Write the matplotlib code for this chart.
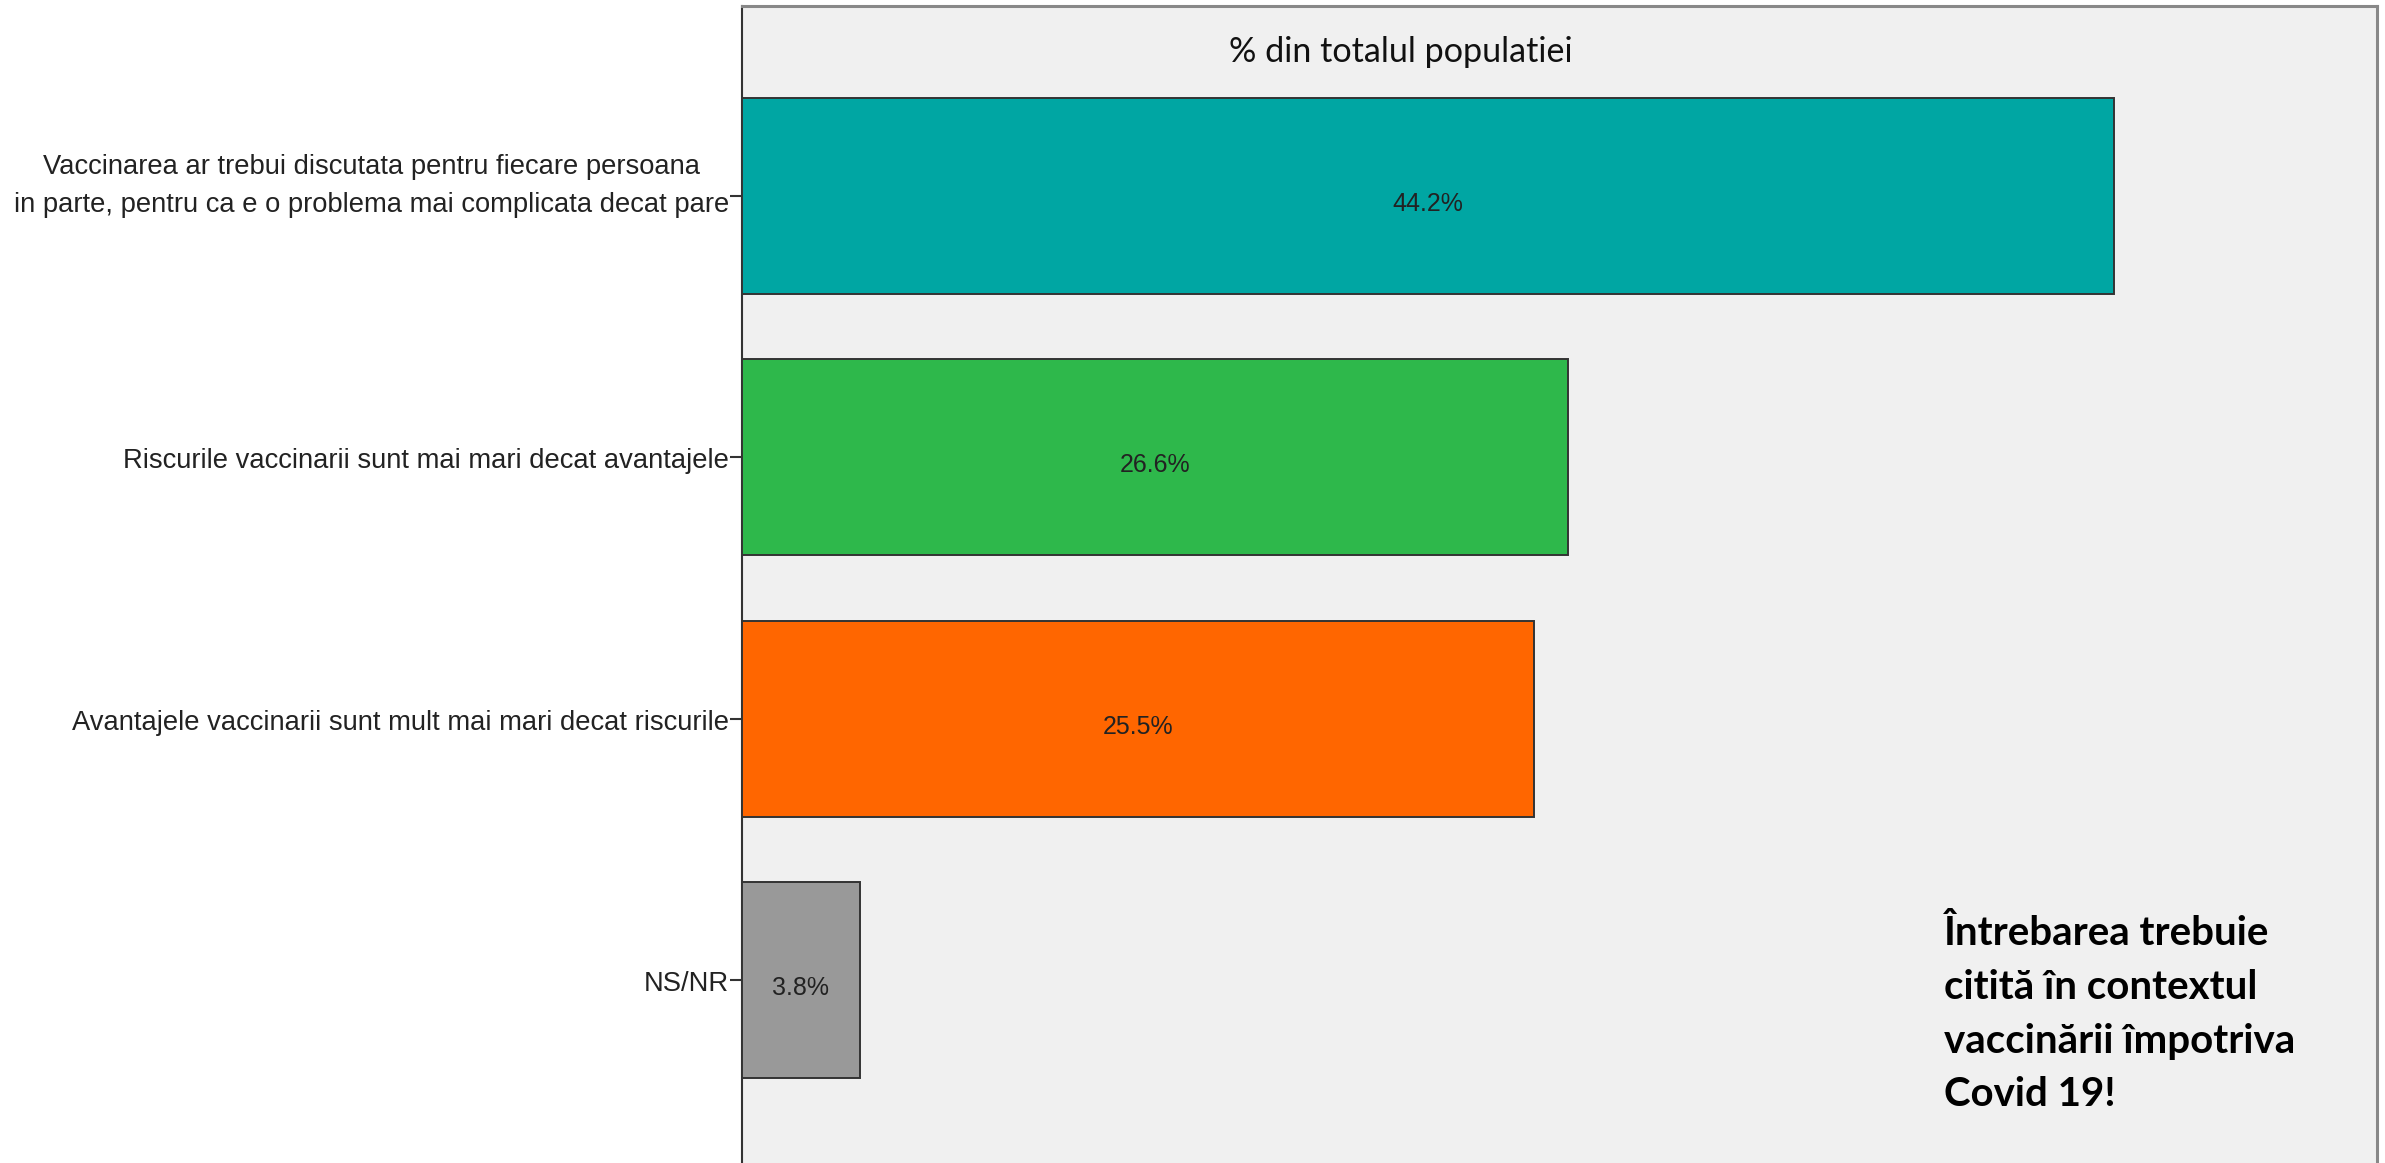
import matplotlib
matplotlib.use("Agg")
import matplotlib.pyplot as plt
import matplotlib.transforms as mtransforms

categories = [
    "Vaccinarea ar trebui discutata pentru fiecare persoana\nin parte, pentru ca e o problema mai complicata decat pare",
    "Riscurile vaccinarii sunt mai mari decat avantajele",
    "Avantajele vaccinarii sunt mult mai mari decat riscurile",
    "NS/NR",
]
values = [44.2, 26.6, 25.5, 3.8]
value_labels = ["44.2%", "26.6%", "25.5%", "3.8%"]
colors = ["#00A6A3", "#2EB84B", "#FF6600", "#999999"]
title = "% din totalul populatiei"
note = "Întrebarea trebuie\ncitită în contextul\nvaccinării împotriva\nCovid 19!"

fig = plt.figure(figsize=(23.85, 11.63), dpi=100)
fig.patch.set_facecolor("white")
ax = fig.add_axes([742/2385, 0.0, (2377-742)/2385, 1 - 6/1163])
ax.set_facecolor("#F0F0F0")

pos = list(range(len(categories)))
ax.barh(pos, values, height=0.75, color=colors, edgecolor="#333333", linewidth=1.4, zorder=3)
down = mtransforms.ScaledTranslation(0, -8/100, fig.dpi_scale_trans)
for p, v, lab in zip(pos, values, value_labels):
    ax.text(v / 2, p, lab, ha="center", va="center", fontsize=18,
            family="Liberation Sans", color="#222222", zorder=4,
            transform=ax.transData + down)

ax.set_xlim(0, 52.67)
ax.set_ylim(3.70, -0.727)
ax.set_yticks(pos)
ax.set_yticklabels([])
ax.tick_params(axis="y", length=9, width=1.5, color="#333333", pad=1)
ylab_tr = mtransforms.blended_transform_factory(ax.transAxes, ax.transData)
for p, cat in zip(pos, categories):
    nlines = cat.count("\n") + 1
    off = (10/100 if nlines > 1 else -4/100)
    tr = ylab_tr + mtransforms.ScaledTranslation(-13/100, off, fig.dpi_scale_trans)
    ax.text(0, p, cat, ha="right", va="center", fontsize=19.7, family="Liberation Sans",
            color="#222222", multialignment="center", linespacing=1.6, transform=tr)

ax.set_xticks([])
ax.spines["bottom"].set_visible(False)
ax.spines["left"].set_color("#333333")
ax.spines["left"].set_linewidth(1.5)
ax.spines["top"].set_color("#888888")
ax.spines["top"].set_linewidth(2.2)
ax.spines["right"].set_color("#888888")
ax.spines["right"].set_linewidth(2.2)

fig.text(1401/2385, 1 - 52/1163, title, ha="center", va="center", fontsize=24.6,
         family="Lato", color="#111111")
fig.text(1944/2385, 1 - 915/1163, note, ha="left", va="top", fontsize=29,
         family="Lato", weight="bold", color="black", linespacing=1.56)

fig.savefig("out.png", dpi=100)
